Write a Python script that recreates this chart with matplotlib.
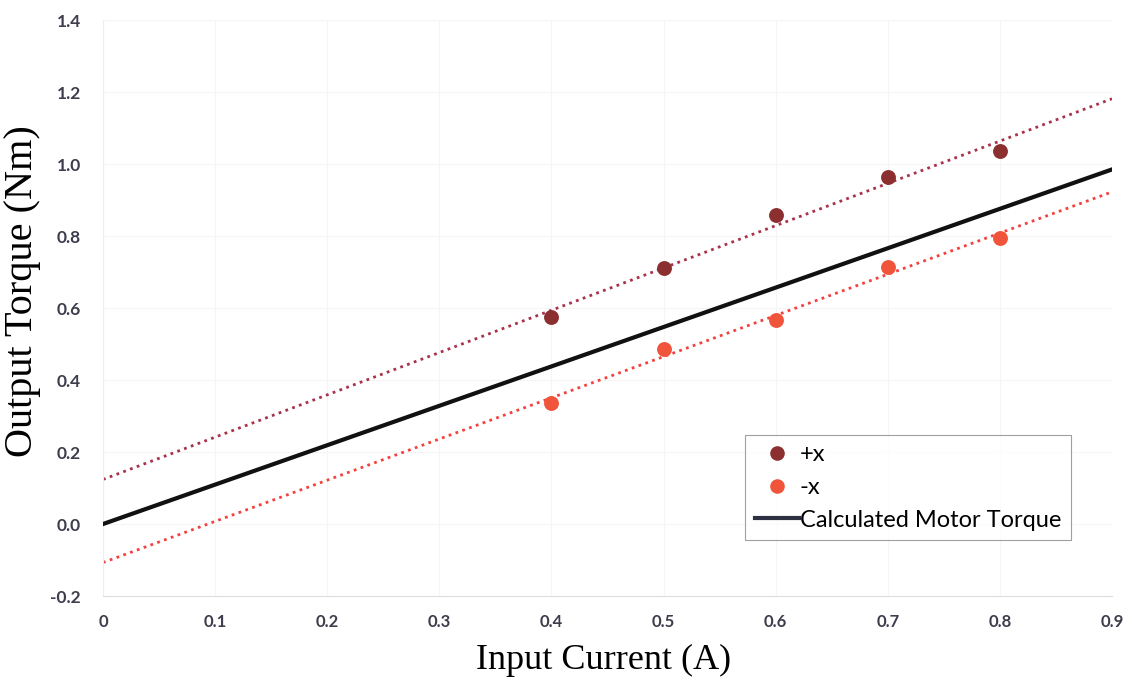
import numpy as np
import matplotlib
matplotlib.use("Agg")
import matplotlib.pyplot as plt
from matplotlib.lines import Line2D

current = [0.4, 0.5, 0.6, 0.7, 0.8]
torque_pos = [0.575, 0.711, 0.858, 0.964, 1.036]
torque_neg = [0.336, 0.486, 0.567, 0.714, 0.794]

# calculated motor torque line
calc_current = [0.0, 0.9]
calc_torque = [0.0, 0.985]

x_ticks = [0, 0.1, 0.2, 0.3, 0.4, 0.5, 0.6, 0.7, 0.8, 0.9]
x_tick_labels = ["0", "0.1", "0.2", "0.3", "0.4", "0.5", "0.6", "0.7", "0.8", "0.9"]
y_ticks = [-0.2, 0.0, 0.2, 0.4, 0.6, 0.8, 1.0, 1.2, 1.4]
y_tick_labels = ["-0.2", "0.0", "0.2", "0.4", "0.6", "0.8", "1.0", "1.2", "1.4"]

c_pos = "#8c2f30"
c_neg = "#f0553b"
c_pos_fit = "#a8324a"
c_neg_fit = "#f2413f"
tick_color = "#3d3d4d"

fig = plt.figure(figsize=(11.28, 6.79), dpi=100)
ax = fig.add_axes([0.0913, 0.1222, 0.8945, 0.8483])

# linear trendlines through the measured points
fit_x = np.array([0.0, 0.9])
p_pos = np.polyfit(current, torque_pos, 1)
p_neg = np.polyfit(current, torque_neg, 1)
ax.plot(fit_x, np.polyval(p_pos, fit_x), linestyle=(0, (1, 1.6)), color=c_pos_fit, lw=2, zorder=2)
ax.plot(fit_x, np.polyval(p_neg, fit_x), linestyle=(0, (1, 1.6)), color=c_neg_fit, lw=2, zorder=2)

ax.plot(calc_current, calc_torque, color="#111111", lw=3, zorder=3)

ax.scatter(current, torque_pos, s=115, color=c_pos, zorder=4, linewidths=0)
ax.scatter(current, torque_neg, s=115, color=c_neg, zorder=4, linewidths=0)

ax.set_xlim(0, 0.9)
ax.set_ylim(-0.2, 1.4)
ax.set_xticks(x_ticks)
ax.set_xticklabels(x_tick_labels)
ax.set_yticks(y_ticks)
ax.set_yticklabels(y_tick_labels)

for lab in ax.get_xticklabels():
    lab.set_fontfamily("Lato")
    lab.set_fontweight("bold")
    lab.set_fontsize(12)
    lab.set_color(tick_color)
for lab in ax.get_yticklabels():
    lab.set_fontfamily("Lato")
    lab.set_fontweight("bold")
    lab.set_fontsize(12.5)
    lab.set_color(tick_color)

ax.tick_params(axis="both", length=0)
ax.tick_params(axis="x", pad=13)
ax.tick_params(axis="y", pad=16)

ax.grid(True, color="#f5f5f5", lw=0.8)
ax.set_axisbelow(True)
for side in ["top", "right"]:
    ax.spines[side].set_visible(False)
ax.spines["left"].set_color("#eeeeee")
ax.spines["bottom"].set_color("#dddddd")

ax.set_xlabel("Input Current (A)", fontfamily="Liberation Serif", fontsize=26)
ax.xaxis.set_label_coords(0.496, -0.083)
ax.set_ylabel("Output Torque (Nm)", fontfamily="Liberation Serif", fontsize=29)
ax.yaxis.set_label_coords(-0.061, 0.53)

handles = [
    Line2D([], [], marker="o", linestyle="none", markersize=10.5, color=c_pos, markeredgewidth=0),
    Line2D([], [], marker="o", linestyle="none", markersize=10.5, color=c_neg, markeredgewidth=0),
    Line2D([], [], color="#2d3040", lw=3),
]
leg = ax.legend(handles, ["+x", "-x", "Calculated Motor Torque"],
                loc="lower right", bbox_to_anchor=(0.959, 0.097),
                prop={"family": "Lato", "size": 17},
                frameon=True, fancybox=False, edgecolor="#888888",
                borderpad=0.4, labelspacing=0.5, handlelength=1.85,
                handletextpad=0.05, borderaxespad=0)
leg.get_frame().set_linewidth(0.8)

fig.savefig("out.png", dpi=100)
